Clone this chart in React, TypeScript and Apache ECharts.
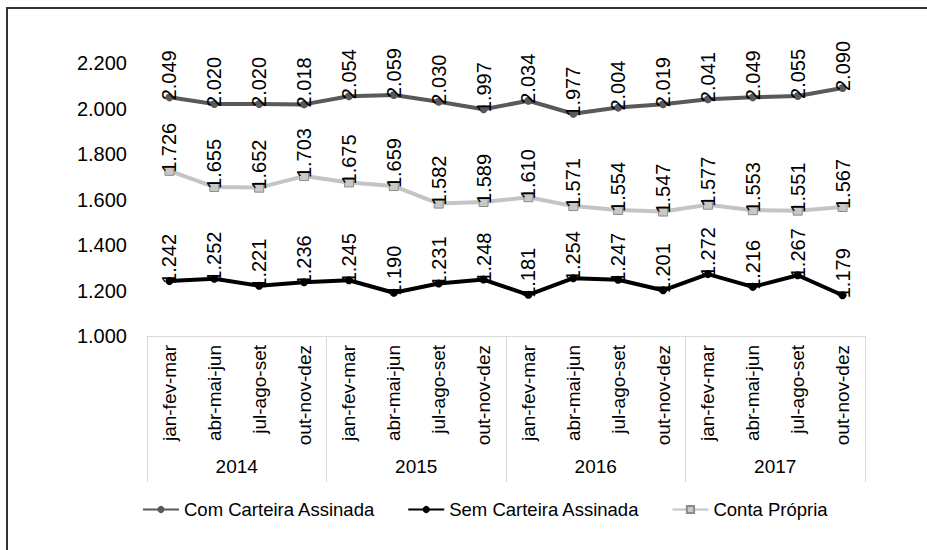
import React, { useEffect, useRef } from "react";
import * as echarts from "echarts";

const quarters = ["jan-fev-mar", "abr-mai-jun", "jul-ago-set", "out-nov-dez"];
const years = ["2014", "2015", "2016", "2017"];
const categories = years.flatMap(() => quarters);

const comCarteira = [2049, 2020, 2020, 2018, 2054, 2059, 2030, 1997, 2034, 1977, 2004, 2019, 2041, 2049, 2055, 2090];
const semCarteira = [1242, 1252, 1221, 1236, 1245, 1190, 1231, 1248, 1181, 1254, 1247, 1201, 1272, 1216, 1267, 1179];
const contaPropria = [1726, 1655, 1652, 1703, 1675, 1659, 1582, 1589, 1610, 1571, 1554, 1547, 1577, 1553, 1551, 1567];

const seriesNames = ["Com Carteira Assinada", "Sem Carteira Assinada", "Conta Própria"];

const FONT = "'Liberation Sans', Arial, sans-serif";
const fmt = (v: number) => (v / 1000).toFixed(3);

export default function App() {
  const ref = useRef<HTMLDivElement>(null);
  useEffect(() => {
    if (!ref.current) return;
    const chart = echarts.init(ref.current, null, { renderer: "svg" });
    const label = {
      show: true,
      position: "top",
      rotate: 90,
      align: "left",
      verticalAlign: "middle",
      distance: -7,
      fontSize: 20,
      fontFamily: FONT,
      color: "#000",
      formatter: (p: any) => fmt(p.value),
    };
    chart.setOption({
      animation: false,
      backgroundColor: "#fff",
      textStyle: { fontFamily: FONT },
      graphic: [
        {
          type: "rect",
          shape: { x: 7, y: 8, width: 1000, height: 1000 },
          style: { fill: "none", stroke: "#333", lineWidth: 2 },
          silent: true,
        },
      ],
      grid: { left: 147, right: 62, top: 63, bottom: 214 },
      legend: {
        left: 137,
        top: 495,
        itemWidth: 36,
        itemHeight: 9,
        itemGap: 32,
        textStyle: { fontSize: 18.5, fontFamily: FONT, color: "#000" },
        data: seriesNames,
      },
      xAxis: [
        {
          type: "category",
          data: categories,
          boundaryGap: true,
          position: "bottom",
          axisLine: { show: true, lineStyle: { color: "#d9d9d9", width: 1 } },
          axisTick: { show: false },
          axisLabel: {
            rotate: 90,
            margin: 9,
            fontSize: 19,
            fontFamily: FONT,
            color: "#000",
            interval: 0,
          },
        },
        {
          type: "category",
          data: years,
          boundaryGap: true,
          position: "bottom",
          offset: 146,
          axisLine: { show: false },
          axisTick: {
            show: true,
            inside: true,
            length: 146,
            lineStyle: { color: "#d9d9d9", width: 1 },
          },
          axisLabel: {
            inside: true,
            margin: 6,
            fontSize: 19,
            fontFamily: FONT,
            color: "#000",
            interval: 0,
          },
        },
      ],
      yAxis: {
        type: "value",
        min: 1000,
        max: 2200,
        interval: 200,
        axisLine: { show: false },
        axisTick: { show: false },
        splitLine: { show: false },
        axisLabel: {
          margin: 20,
          fontSize: 20,
          fontFamily: FONT,
          color: "#000",
          formatter: (v: number) => fmt(v),
        },
      },
      series: [
        {
          name: seriesNames[0],
          type: "line",
          data: comCarteira,
          symbol: "circle",
          symbolSize: 8,
          lineStyle: { color: "#595959", width: 4 },
          itemStyle: { color: "#595959" },
          label,
          z: 3,
        },
        {
          name: seriesNames[1],
          type: "line",
          data: semCarteira,
          symbol: "circle",
          symbolSize: 8,
          lineStyle: { color: "#000", width: 4 },
          itemStyle: { color: "#000" },
          label,
          z: 3,
        },
        {
          name: seriesNames[2],
          type: "line",
          data: contaPropria,
          symbol: "rect",
          symbolSize: 9,
          lineStyle: { color: "#c4c4c4", width: 4 },
          itemStyle: { color: "#c8c8c8", borderColor: "#8c8c8c", borderWidth: 1 },
          label,
          z: 2,
        },
      ],
    });
    return () => chart.dispose();
  }, []);
  return (
    <div
      ref={ref}
      style={{ position: "fixed", left: 0, top: 0, width: 927, height: 550 }}
    />
  );
}
